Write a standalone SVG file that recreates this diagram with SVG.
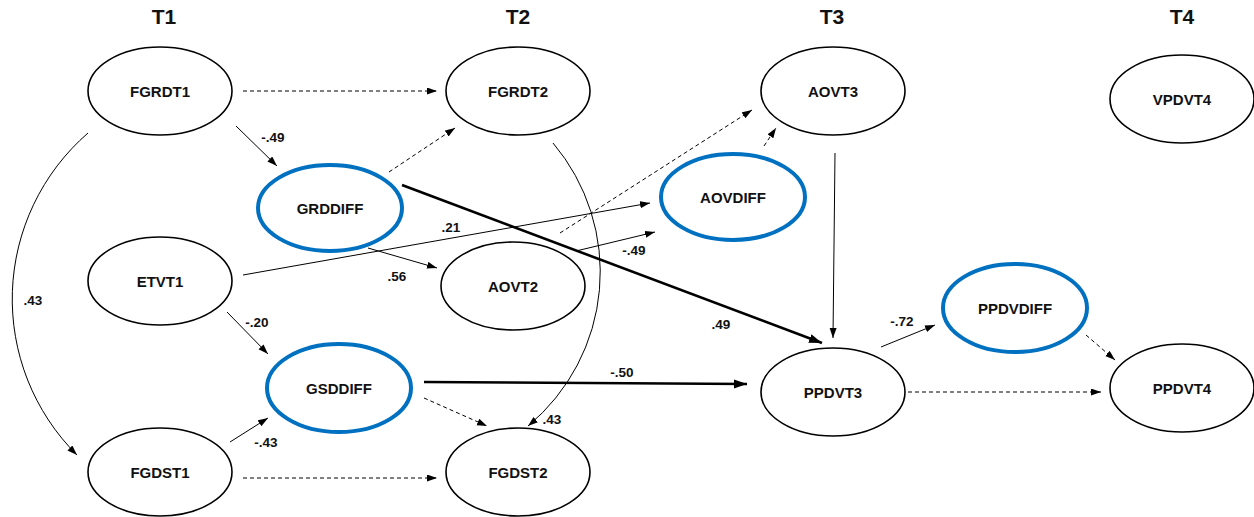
<svg xmlns="http://www.w3.org/2000/svg" width="1254" height="517" viewBox="0 0 1254 517">
<style>
.n{fill:#fff;stroke:#000;stroke-width:1.6}
.d{fill:#fff;stroke:#0070C0;stroke-width:4}
.t{font-family:"Liberation Sans",Arial,sans-serif;font-weight:bold;font-size:15px;text-anchor:middle;fill:#111}
.h{font-family:"Liberation Sans",Arial,sans-serif;font-weight:bold;font-size:21px;text-anchor:middle;fill:#111}
.l{font-family:"Liberation Sans",Arial,sans-serif;font-weight:bold;font-size:13.5px;text-anchor:middle;fill:#111}
.e{fill:none;stroke:#000;stroke-width:1;marker-end:url(#a)}
.ds{stroke-dasharray:4 3}
.k{fill:none;stroke:#000;stroke-width:2.6;marker-end:url(#b)}
</style>
<defs>
<marker id="a" markerUnits="userSpaceOnUse" markerWidth="11" markerHeight="8" refX="10" refY="3.5" orient="auto"><path d="M0,0 L10,3.5 L0,7 z" fill="#000"/></marker>
<marker id="b" markerUnits="userSpaceOnUse" markerWidth="14" markerHeight="10" refX="13" refY="4.5" orient="auto"><path d="M0,0 L13,4.5 L0,9 z" fill="#000"/></marker>
</defs>
<rect width="1254" height="517" fill="#fff"/>
<g id="headers">
<text class="h" x="164" y="24">T1</text>
<text class="h" x="518" y="24">T2</text>
<text class="h" x="832" y="24">T3</text>
<text class="h" x="1182" y="24">T4</text>
</g>
<g id="connectors">
<path class="e ds" d="M243,91 L437,91"/>
<path class="e" d="M236,126 L277,166"/>
<path class="e ds" d="M389,172 L455,128"/>
<path class="e" d="M88,133 A220,220 0 0 0 77,455"/>
<path class="e" d="M243,275 L650,203"/>
<path class="e" d="M368,248 L437,268"/>
<path class="k" d="M402,185 L822,343"/>
<path class="e" d="M576,251 L655,232"/>
<path class="e ds" d="M560,233 L752,110"/>
<path class="e ds" d="M764,146 L776,128"/>
<path class="e" d="M553,143 A200,200 0 0 1 528,426"/>
<path class="e" d="M835,153 L833,338"/>
<path class="e" d="M227,312 L268,354"/>
<path class="e" d="M230,442 L268,418"/>
<path class="e ds" d="M243,478 L437,478"/>
<path class="e ds" d="M424,398 L487,426"/>
<path class="k" d="M424,382 L747,384"/>
<path class="e" d="M881,347 L935,325"/>
<path class="e ds" d="M1086,335 L1115,360"/>
<path class="e ds" d="M908,392 L1101,392"/>
</g>
<g id="edge-labels">
<text class="l" x="273" y="142">-.49</text>
<text class="l" x="451" y="232">.21</text>
<text class="l" x="634" y="255">-.49</text>
<text class="l" x="397" y="281">.56</text>
<text class="l" x="33" y="305">.43</text>
<text class="l" x="257" y="327">-.20</text>
<text class="l" x="266" y="447">-.43</text>
<text class="l" x="721" y="329">.49</text>
<text class="l" x="622" y="377">-.50</text>
<text class="l" x="552" y="424">.43</text>
<text class="l" x="902" y="326">-.72</text>
</g>
<g id="FGRDT1"><ellipse class="n" cx="160" cy="91" rx="72" ry="44"/><text class="t" x="160" y="97">FGRDT1</text></g>
<g id="FGRDT2"><ellipse class="n" cx="518" cy="91" rx="72" ry="44"/><text class="t" x="518" y="97">FGRDT2</text></g>
<g id="AOVT3"><ellipse class="n" cx="833" cy="91" rx="72" ry="44"/><text class="t" x="833" y="97">AOVT3</text></g>
<g id="VPDVT4"><ellipse class="n" cx="1182" cy="99" rx="72" ry="44"/><text class="t" x="1182" y="105">VPDVT4</text></g>
<g id="GRDDIFF"><ellipse class="d" cx="330" cy="208" rx="72" ry="43"/><text class="t" x="330" y="214">GRDDIFF</text></g>
<g id="AOVDIFF"><ellipse class="d" cx="733" cy="197" rx="72" ry="43"/><text class="t" x="733" y="203">AOVDIFF</text></g>
<g id="ETVT1"><ellipse class="n" cx="160" cy="281" rx="72" ry="44"/><text class="t" x="160" y="287">ETVT1</text></g>
<g id="AOVT2"><ellipse class="n" cx="513" cy="286" rx="72" ry="44"/><text class="t" x="513" y="292">AOVT2</text></g>
<g id="PPDVDIFF"><ellipse class="d" cx="1015" cy="308" rx="72" ry="44"/><text class="t" x="1015" y="314">PPDVDIFF</text></g>
<g id="GSDDIFF"><ellipse class="d" cx="339" cy="388" rx="72" ry="44"/><text class="t" x="339" y="394">GSDDIFF</text></g>
<g id="PPDVT3"><ellipse class="n" cx="833" cy="392" rx="72" ry="44"/><text class="t" x="833" y="398">PPDVT3</text></g>
<g id="PPDVT4"><ellipse class="n" cx="1182" cy="388" rx="72" ry="44"/><text class="t" x="1182" y="394">PPDVT4</text></g>
<g id="FGDST1"><ellipse class="n" cx="160" cy="472" rx="72" ry="44"/><text class="t" x="160" y="478">FGDST1</text></g>
<g id="FGDST2"><ellipse class="n" cx="518" cy="472" rx="72" ry="44"/><text class="t" x="518" y="478">FGDST2</text></g>
</svg>
